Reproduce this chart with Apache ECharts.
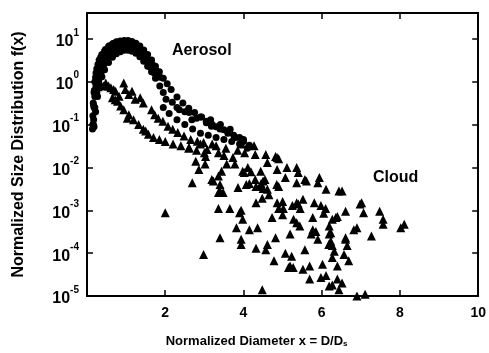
<!DOCTYPE html>
<html>
<head>
<meta charset="utf-8">
<script src="https://cdn.jsdelivr.net/npm/echarts@6/dist/echarts.min.js"></script>
<style>
html, body { margin: 0; padding: 0; background: #fff; }
#chart { width: 489px; height: 353px; }
</style>
</head>
<body>
<div id="chart"></div>
<script>
// 数据：横坐标 x = D/Ds，纵坐标 f(x)（对数轴）
var xTicks = [0, 2, 4, 6, 8, 10];
var yDecades = [1e-5, 1e-4, 1e-3, 1e-2, 1e-1, 1, 10];

// 气溶胶（圆点）：外沿、中间、内沿以及尾部的分支
var aerosolOuter = [
    [0.14, 0.079], [0.15, 0.16], [0.16, 0.32], [0.18, 0.56], [0.2, 1.0], [0.23, 1.6],
    [0.28, 2.5], [0.35, 3.7], [0.45, 5.2], [0.55, 6.6], [0.65, 7.6], [0.75, 8.5],
    [0.85, 8.9], [0.95, 9.1], [1.05, 9.1], [1.15, 8.7], [1.25, 7.9], [1.35, 6.8],
    [1.45, 5.5], [1.55, 4.3], [1.65, 3.2], [1.75, 2.3], [1.85, 1.7], [1.95, 1.2],
    [2.05, 0.89], [2.15, 0.66], [2.3, 0.44], [2.45, 0.32], [2.6, 0.24], [2.75, 0.19],
    [2.9, 0.15], [3.05, 0.12], [3.2, 0.10], [3.4, 0.079], [3.6, 0.063], [3.8, 0.050],
    [4.0, 0.040], [4.15, 0.033]
];
var aerosolUpperBand = [
    [0.15, 0.10], [0.17, 0.28], [0.19, 0.63], [0.22, 1.26], [0.25, 2.0], [0.31, 3.2],
    [0.38, 4.3], [0.47, 5.6], [0.57, 6.9], [0.67, 7.8], [0.77, 8.3], [0.87, 8.5],
    [0.97, 8.5], [1.07, 8.3], [1.17, 7.6], [1.27, 6.6], [1.37, 5.5], [1.47, 4.4],
    [1.57, 3.3], [1.67, 2.5], [1.77, 1.8], [1.87, 1.26]
];
var aerosolMiddle = [
    [0.16, 0.10], [0.18, 0.25], [0.2, 0.45], [0.23, 0.79], [0.28, 1.4], [0.34, 2.2],
    [0.42, 3.3], [0.5, 4.4], [0.6, 5.4], [0.7, 6.2], [0.8, 6.8], [0.9, 7.1],
    [1.0, 7.2], [1.1, 7.1], [1.2, 6.5], [1.3, 5.6], [1.4, 4.7], [1.5, 3.6],
    [1.6, 2.8], [1.7, 2.0], [1.8, 1.4]
];
var aerosolLowerBand = [
    [0.17, 0.13], [0.2, 0.25], [0.25, 0.56], [0.3, 1.05], [0.36, 1.66], [0.43, 2.5],
    [0.52, 3.5], [0.62, 4.5], [0.72, 5.2], [0.82, 5.8], [0.92, 6.2], [1.02, 6.3],
    [1.12, 6.0], [1.22, 5.5], [1.32, 4.7], [1.42, 3.8], [1.52, 3.0], [1.62, 2.2],
    [1.72, 1.6]
];
var aerosolInner = [
    [0.18, 0.089], [0.22, 0.20], [0.27, 0.45], [0.32, 0.79], [0.38, 1.3], [0.45, 1.9],
    [0.55, 2.8], [0.65, 3.7], [0.75, 4.5], [0.85, 5.0], [0.95, 5.4], [1.05, 5.4],
    [1.15, 5.1], [1.25, 4.6], [1.35, 3.8], [1.45, 3.0], [1.55, 2.3], [1.65, 1.7],
    [1.75, 1.2]
];
var aerosolTail = [
    [1.86, 0.79], [1.95, 0.56], [2.02, 0.39], [2.18, 0.33], [2.3, 0.25], [2.36, 0.22],
    [2.5, 0.20], [2.61, 0.19], [2.68, 0.13], [2.8, 0.14], [2.93, 0.15], [3.05, 0.11],
    [3.16, 0.13], [3.18, 0.091], [3.3, 0.089], [3.41, 0.10], [3.5, 0.076], [3.66, 0.078],
    [3.75, 0.056], [3.9, 0.050], [4.0, 0.045],
    [1.95, 0.25], [2.1, 0.18], [2.3, 0.13], [2.5, 0.10], [2.7, 0.079], [2.9, 0.063],
    [3.1, 0.056], [3.3, 0.050], [3.5, 0.045], [3.7, 0.040], [3.9, 0.035], [4.1, 0.028]
];

// 云（三角形）
var cloudHead = [
    [0.28, 0.76], [0.36, 0.85], [0.42, 0.79], [0.48, 0.93], [0.55, 0.79], [0.61, 0.72],
    [0.68, 0.66], [0.73, 0.60], [0.82, 0.46], [0.94, 0.93], [0.98, 0.66], [1.07, 0.50],
    [1.15, 0.60], [1.23, 0.39], [1.36, 0.42], [1.44, 0.32], [1.03, 0.14], [1.65, 0.22],
    [1.73, 0.17], [1.82, 0.14], [1.94, 0.12], [2.07, 0.091], [2.19, 0.078], [2.32, 0.065],
    [2.48, 0.054], [2.65, 0.045], [2.82, 0.041], [2.98, 0.038],
    [0.65, 0.42], [0.72, 0.38], [0.78, 0.35], [0.86, 0.27], [0.94, 0.22], [1.07, 0.17],
    [1.19, 0.13], [1.32, 0.10], [1.44, 0.078], [1.5, 0.071], [1.57, 0.059], [1.7, 0.050],
    [1.85, 0.045], [2.0, 0.040], [2.2, 0.035], [2.4, 0.032], [2.6, 0.028], [2.8, 0.025],
    [3.0, 0.022]
];
var cloudMid = [
    [2.61, 0.029], [3.07, 0.026], [3.36, 0.022], [3.5, 0.019], [3.73, 0.017], [4.03, 0.022],
    [4.27, 0.032], [4.3, 0.020], [4.57, 0.020], [4.82, 0.018], [4.9, 0.016], [5.11, 0.010],
    [5.36, 0.010], [5.57, 0.0052], [4.86, 0.017], [5.4, 0.0076], [5.94, 0.0058], [6.11, 0.0031],
    [6.44, 0.0028], [3.3, 0.032], [3.55, 0.028], [3.85, 0.025], [3.95, 0.035], [2.9, 0.035],
    [3.2, 0.035], [2.78, 0.014], [2.86, 0.0089], [3.02, 0.012], [2.69, 0.0044], [3.19, 0.0052],
    [3.44, 0.0081], [3.57, 0.012], [3.78, 0.012], [3.98, 0.0081], [4.11, 0.010], [4.19, 0.0079],
    [4.44, 0.0081], [4.61, 0.013], [4.86, 0.0089], [5.07, 0.0058], [3.4, 0.0040], [3.4, 0.0028],
    [3.86, 0.0034], [4.07, 0.0040], [4.32, 0.0036], [4.44, 0.0036], [4.85, 0.0040], [3.36, 0.0011],
    [3.65, 0.0011], [3.9, 0.00087], [4.32, 0.0015], [4.48, 0.0019], [4.86, 0.0015], [5.02, 0.0011],
    [5.36, 0.0015], [5.52, 0.0018], [3.23, 0.0048], [3.36, 0.0026], [3.48, 0.0026], [4.15, 0.0042],
    [4.5, 0.0032], [4.61, 0.0031], [4.65, 0.0023], [4.9, 0.0036], [5.36, 0.0044], [5.61, 0.0048],
    [3.03, 0.018], [3.36, 0.0063], [4.02, 0.0076], [3.94, 0.0010], [4.9, 0.0011], [5.0, 0.00079],
    [4.3, 0.0052], [4.5, 0.0048], [4.45, 0.0042], [4.55, 0.0052], [5.0, 0.0016], [5.25, 0.0013],
    [5.45, 0.0011], [6.1, 0.0011], [6.05, 0.00085]
];
var cloudLow = [
    [3.98, 0.00062], [4.73, 0.00068], [3.82, 0.00039], [4.15, 0.00035], [4.36, 0.00039], [3.4, 0.00023],
    [3.94, 0.00016], [4.32, 0.00013], [4.57, 0.00012], [4.61, 0.00016], [4.82, 0.00023], [5.19, 0.00028],
    [5.36, 0.00051], [5.44, 0.00043], [5.73, 0.00028], [2.98, 0.000093], [4.78, 0.000066], [5.07, 0.00010],
    [5.23, 0.000085], [5.57, 0.00012], [5.15, 0.000046], [5.27, 0.000046], [5.52, 0.000042], [5.69, 0.000050],
    [5.69, 0.000025], [4.48, 0.000014], [2.0, 0.00087], [3.94, 0.00021],
    [5.28, 0.00062], [5.19, 0.000050]
];
var cloudRight = [
    [5.9, 0.0044], [6.52, 0.0028], [5.4, 0.0014], [5.81, 0.0015], [5.98, 0.0013], [6.98, 0.0014],
    [7.02, 0.0015], [7.07, 0.00087], [6.61, 0.00095], [6.4, 0.00072], [6.27, 0.00062], [7.48, 0.00095],
    [7.57, 0.00062], [7.57, 0.00047], [8.02, 0.00039], [8.11, 0.00047], [5.77, 0.00068], [6.19, 0.00043],
    [6.82, 0.00035], [6.9, 0.00039], [7.27, 0.00025], [5.85, 0.00032], [5.9, 0.00021], [6.19, 0.00028],
    [6.23, 0.00019], [6.27, 0.00015], [6.32, 0.00011], [6.61, 0.00023], [6.65, 0.00015], [6.57, 0.000093],
    [6.69, 0.000066], [6.27, 0.000079], [6.4, 0.000050], [6.02, 0.000055], [5.98, 0.000027], [6.11, 0.000030],
    [6.19, 0.000017], [6.27, 0.000018], [6.44, 0.000014], [6.52, 0.000020], [6.9, 0.000010], [7.11, 0.000011],
    [6.4, 0.000025], [6.36, 0.00068],
    [5.77, 0.00035], [6.23, 0.00030], [6.18, 0.00016], [6.61, 0.00021]
];

var fontName = '"Liberation Sans", Arial, sans-serif';

drawChart("chart");

// 画散点图
function drawChart(domId) {
    var aerosolData = aerosolOuter.concat(aerosolUpperBand, aerosolMiddle, aerosolLowerBand, aerosolInner, aerosolTail);
    var cloudData = cloudHead.concat(cloudMid, cloudLow, cloudRight);

    var xAxisBase = {
        type: 'value',
        min: xTicks[0],
        max: xTicks[xTicks.length - 1],
        interval: 2,
        axisLine: { show: true, onZero: false, lineStyle: { color: '#000', width: 2 } },
        axisTick: { show: true, inside: true, length: 6, lineStyle: { color: '#000', width: 1.5 } },
        splitLine: { show: false }
    };
    var yAxisBase = {
        type: 'log',
        logBase: 10,
        min: yDecades[0],
        max: 40,
        interval: 1,
        axisLine: { show: true, onZero: false, lineStyle: { color: '#000', width: 2 } },
        axisTick: { show: true, inside: true, length: 6, lineStyle: { color: '#000', width: 1.5 } },
        splitLine: { show: false },
        minorTick: { show: false }
    };

    var option = {
        animation: false,
        backgroundColor: '#fff',
        grid: { left: 87, right: 5, top: 13, bottom: 56 },
        xAxis: [
            Object.assign({}, xAxisBase, {
                position: 'bottom',
                name: '{a|Normalized Diameter x = D/D}{s|s}',
                nameLocation: 'middle',
                nameGap: 38,
                nameTextStyle: {
                    padding: [0, 52, 0, 0],
                    rich: {
                        a: { fontFamily: fontName, fontWeight: 'bold', fontSize: 13, color: '#000' },
                        s: { fontFamily: fontName, fontWeight: 'bold', fontSize: 8, color: '#000', verticalAlign: 'bottom', padding: [6, 0, 0, 0] }
                    }
                },
                axisLabel: {
                    margin: 10,
                    fontFamily: fontName,
                    fontWeight: 'bold',
                    fontSize: 14,
                    color: '#000',
                    formatter: function (v) { return v === 0 ? '' : String(v); }
                }
            }),
            Object.assign({}, xAxisBase, { position: 'top', axisLabel: { show: false } })
        ],
        yAxis: [
            Object.assign({}, yAxisBase, {
                position: 'left',
                name: 'Normalized Size Distribution f(x)',
                nameLocation: 'middle',
                nameGap: 60,
                nameTextStyle: { fontFamily: fontName, fontWeight: 'bold', fontSize: 16, color: '#000' },
                axisLabel: {
                    margin: 8,
                    showMaxLabel: false,
                    formatter: function (v) {
                        var e = Math.round(Math.log(v) / Math.LN10);
                        return '{b|10}{e|' + e + '}';
                    },
                    rich: {
                        b: { fontFamily: fontName, fontWeight: 'bold', fontSize: 16, color: '#000', padding: [6, 0, 0, 0] },
                        e: { fontFamily: fontName, fontWeight: 'bold', fontSize: 10, color: '#000', verticalAlign: 'top' }
                    }
                }
            }),
            Object.assign({}, yAxisBase, { position: 'right', axisLabel: { show: false } })
        ],
        graphic: [
            {
                type: 'text', x: 172, y: 51,
                style: { text: 'Aerosol', font: 'bold 16px ' + fontName, fill: '#000', verticalAlign: 'middle' }
            },
            {
                type: 'text', x: 373, y: 178,
                style: { text: 'Cloud', font: 'bold 16px ' + fontName, fill: '#000', verticalAlign: 'middle' }
            }
        ],
        series: [
            {
                name: 'Aerosol',
                type: 'scatter',
                xAxisIndex: 0,
                yAxisIndex: 0,
                symbol: 'circle',
                symbolSize: 7,
                itemStyle: { color: '#000', opacity: 1 },
                data: aerosolData
            },
            {
                name: 'Cloud',
                type: 'scatter',
                xAxisIndex: 0,
                yAxisIndex: 0,
                symbol: 'triangle',
                symbolSize: 9,
                itemStyle: { color: '#000', opacity: 1 },
                data: cloudData
            }
        ]
    };

    var chart = echarts.init(document.getElementById(domId));
    chart.setOption(option);
}
</script>
</body>
</html>
